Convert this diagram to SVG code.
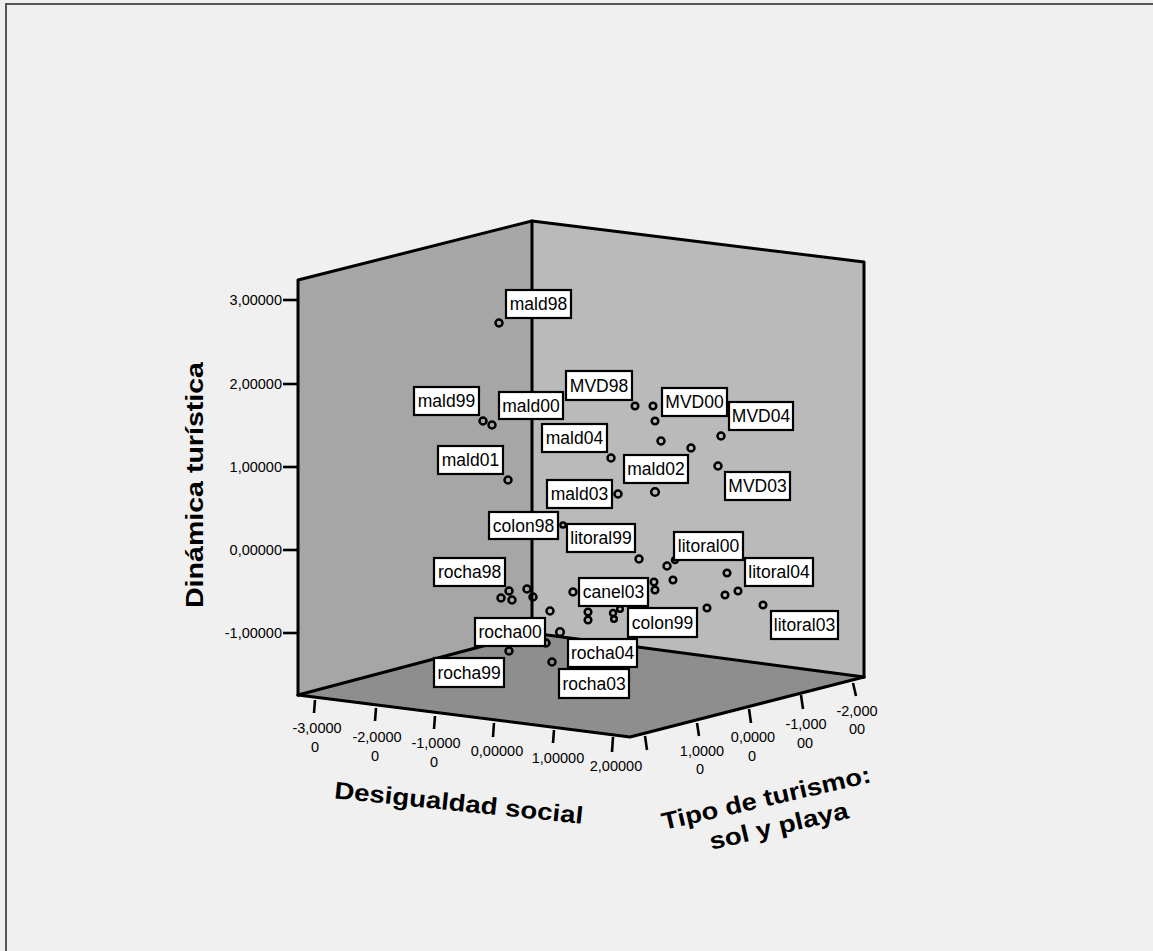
<svg xmlns="http://www.w3.org/2000/svg" width="1153" height="951" viewBox="0 0 1153 951">
<style>
text{font-family:"Liberation Sans",Arial,sans-serif;fill:#000}
.edge{stroke:#000;stroke-width:3;fill:none;stroke-linejoin:round;stroke-linecap:round}
.tick{stroke:#000;stroke-width:2.6;fill:none}
.tl{font-size:14.5px}
.tlm{font-size:14.5px;text-anchor:middle}
.title{font-size:24px;font-weight:bold;text-anchor:middle}
.pt{fill:none;stroke:#000;stroke-width:2.5}
.lb rect{fill:#fff;stroke:#000;stroke-width:2.2}
.lb text{font-size:17.5px;text-anchor:middle}
</style>
<rect x="0" y="0" width="1153" height="951" fill="#f0f0f0"/>
<g id="frame" stroke="#555" stroke-width="2">
<line x1="5" y1="4" x2="1153" y2="4"/>
<line x1="6" y1="3" x2="6" y2="951"/>
</g>
<g id="walls">
<polygon points="298,280 532,221 532,633 298,695" fill="#a6a6a6"/>
<polygon points="532,221 864,262 864,677 532,633" fill="#bababa"/>
<polygon points="298,695 532,633 864,677 630,737" fill="#8e8e8e"/>
</g>
<g id="edges" class="edge">
<polyline points="298,695 298,280 532,221 864,262 864,677"/>
<line x1="532" y1="221" x2="532" y2="633"/>
<polyline points="298,695 532,633 864,677"/>
<polyline points="298,695 630,737 864,677"/>
</g>
<g id="y-axis">
<g class="tick">
<line x1="283" y1="300" x2="298" y2="300"/>
<line x1="283" y1="384" x2="298" y2="384"/>
<line x1="283" y1="467" x2="298" y2="467"/>
<line x1="283" y1="550" x2="298" y2="550"/>
<line x1="283" y1="633" x2="298" y2="633"/>
</g>
<text class="tl" x="282" y="305" text-anchor="end">3,00000</text>
<text class="tl" x="282" y="389" text-anchor="end">2,00000</text>
<text class="tl" x="282" y="472" text-anchor="end">1,00000</text>
<text class="tl" x="282" y="555" text-anchor="end">0,00000</text>
<text class="tl" x="282" y="638" text-anchor="end">-1,00000</text>
<text class="title" transform="translate(203,485) rotate(-90)" textLength="246" lengthAdjust="spacingAndGlyphs">Dinámica turística</text>
</g>
<g id="x-axis">
<g class="tick">
<line x1="315" y1="700" x2="314" y2="713"/>
<line x1="376" y1="708" x2="375" y2="721"/>
<line x1="435" y1="716" x2="434" y2="729"/>
<line x1="494" y1="723" x2="493" y2="737"/>
<line x1="554" y1="730" x2="553" y2="743"/>
<line x1="613" y1="737" x2="612" y2="752"/>
</g>
<text class="tlm" x="317" y="733">-3,0000</text><text class="tlm" x="315" y="752">0</text>
<text class="tlm" x="377" y="742">-2,0000</text><text class="tlm" x="375" y="761">0</text>
<text class="tlm" x="436" y="748">-1,0000</text><text class="tlm" x="434" y="767">0</text>
<text class="tlm" x="497" y="756">0,00000</text>
<text class="tlm" x="558" y="763">1,00000</text>
<text class="tlm" x="616" y="771">2,00000</text>
<text class="title" transform="translate(458,811) rotate(5.9)" textLength="250" lengthAdjust="spacingAndGlyphs">Desigualdad social</text>
</g>
<g id="z-axis">
<g class="tick">
<line x1="645" y1="736" x2="647" y2="750"/>
<line x1="697" y1="723" x2="699" y2="736"/>
<line x1="749" y1="709" x2="751" y2="723"/>
<line x1="801" y1="695" x2="803" y2="709"/>
<line x1="853" y1="683" x2="856" y2="696"/>
</g>
<text class="tlm" x="702" y="756">1,0000</text><text class="tlm" x="700" y="774">0</text>
<text class="tlm" x="753" y="742">0,0000</text><text class="tlm" x="752" y="761">0</text>
<text class="tlm" x="806" y="729">-1,000</text><text class="tlm" x="805" y="748">00</text>
<text class="tlm" x="857" y="716">-2,000</text><text class="tlm" x="857" y="734">00</text>
<g transform="translate(768,806) rotate(-13)">
<text class="title" x="0" y="0" textLength="214" lengthAdjust="spacingAndGlyphs">Tipo de turismo:</text>
<text class="title" x="6" y="30" textLength="142" lengthAdjust="spacingAndGlyphs">sol y playa</text>
</g>
</g>
<g id="points" class="pt">
<circle cx="499" cy="323" r="3.5"/>
<circle cx="483" cy="421" r="3.5"/>
<circle cx="492" cy="425" r="3.5"/>
<circle cx="508" cy="480" r="3.5"/>
<circle cx="635" cy="406" r="3.3"/>
<circle cx="653" cy="406" r="3.3"/>
<circle cx="655" cy="421" r="3.3"/>
<circle cx="661" cy="441" r="3.5"/>
<circle cx="691" cy="448" r="3.5"/>
<circle cx="721" cy="436" r="3.5"/>
<circle cx="718" cy="466" r="3.5"/>
<circle cx="611" cy="458" r="3.5"/>
<circle cx="655" cy="492" r="3.8"/>
<circle cx="618" cy="494" r="3.5"/>
<circle cx="563" cy="525" r="2.6"/>
<circle cx="639" cy="559" r="3.5"/>
<circle cx="509" cy="591" r="3.5"/>
<circle cx="501" cy="598" r="3.5"/>
<circle cx="512" cy="600" r="3.5"/>
<circle cx="527" cy="589" r="3.5"/>
<circle cx="533" cy="597" r="3.5"/>
<circle cx="550" cy="611" r="3.5"/>
<circle cx="573" cy="592" r="3.5"/>
<circle cx="560" cy="632" r="3.8"/>
<circle cx="546" cy="643" r="3.5"/>
<circle cx="509" cy="651" r="3.5"/>
<circle cx="552" cy="662" r="3.5"/>
<circle cx="588" cy="612" r="3.3"/>
<circle cx="588" cy="620" r="3.3"/>
<circle cx="613" cy="613" r="3"/>
<circle cx="614" cy="619" r="2.8"/>
<circle cx="620" cy="609" r="2.8"/>
<circle cx="654" cy="582" r="3.3"/>
<circle cx="655" cy="590" r="3.3"/>
<circle cx="667" cy="566" r="3.5"/>
<circle cx="675" cy="560" r="3"/>
<circle cx="673" cy="580" r="3.3"/>
<circle cx="727" cy="573" r="3.3"/>
<circle cx="725" cy="595" r="3.3"/>
<circle cx="738" cy="591" r="3.3"/>
<circle cx="707" cy="608" r="3.3"/>
<circle cx="763" cy="605" r="3.3"/>
</g>
<g id="labels" class="lb">
<g id="mald98"><rect x="506" y="290" width="65" height="28"/><text x="538.5" y="310">mald98</text></g>
<g id="mald99"><rect x="414" y="387" width="65" height="28"/><text x="446.5" y="407">mald99</text></g>
<g id="mald00"><rect x="499" y="392" width="64" height="27"/><text x="531" y="411.5">mald00</text></g>
<g id="mald01"><rect x="438" y="446" width="65" height="28"/><text x="470.5" y="466">mald01</text></g>
<g id="MVD98"><rect x="566" y="371" width="66" height="29"/><text x="599" y="391.5">MVD98</text></g>
<g id="MVD00"><rect x="662" y="388" width="65" height="28"/><text x="694.5" y="408">MVD00</text></g>
<g id="MVD04"><rect x="729" y="402" width="64" height="28"/><text x="761" y="422">MVD04</text></g>
<g id="mald04"><rect x="542" y="424" width="65" height="28"/><text x="574.5" y="444">mald04</text></g>
<g id="mald02"><rect x="624" y="455" width="64" height="28"/><text x="656" y="475">mald02</text></g>
<g id="MVD03"><rect x="725" y="472" width="65" height="28"/><text x="757.5" y="492">MVD03</text></g>
<g id="mald03"><rect x="547" y="480" width="65" height="28"/><text x="579.5" y="500">mald03</text></g>
<g id="colon98"><rect x="489" y="512" width="69" height="27"/><text x="523.5" y="531.5">colon98</text></g>
<g id="litoral99"><rect x="567" y="524" width="68" height="28"/><text x="601" y="544">litoral99</text></g>
<g id="litoral00"><rect x="674" y="532" width="69" height="28"/><text x="708.5" y="552">litoral00</text></g>
<g id="litoral04"><rect x="745" y="558" width="68" height="28"/><text x="779" y="578">litoral04</text></g>
<g id="litoral03"><rect x="771" y="611" width="67" height="28"/><text x="804.5" y="631">litoral03</text></g>
<g id="rocha98"><rect x="434" y="558" width="71" height="28"/><text x="469.5" y="578">rocha98</text></g>
<g id="canel03"><rect x="579" y="578" width="69" height="28"/><text x="613.5" y="598">canel03</text></g>
<g id="colon99"><rect x="628" y="608" width="69" height="29"/><text x="662.5" y="628.5">colon99</text></g>
<g id="rocha00"><rect x="475" y="618" width="70" height="28"/><text x="510" y="638">rocha00</text></g>
<g id="rocha04"><rect x="568" y="639" width="69" height="28"/><text x="602.5" y="659">rocha04</text></g>
<g id="rocha99"><rect x="434" y="658" width="70" height="29"/><text x="469" y="678.5">rocha99</text></g>
<g id="rocha03"><rect x="559" y="669" width="70" height="29"/><text x="594" y="689.5">rocha03</text></g>
</g>
</svg>
